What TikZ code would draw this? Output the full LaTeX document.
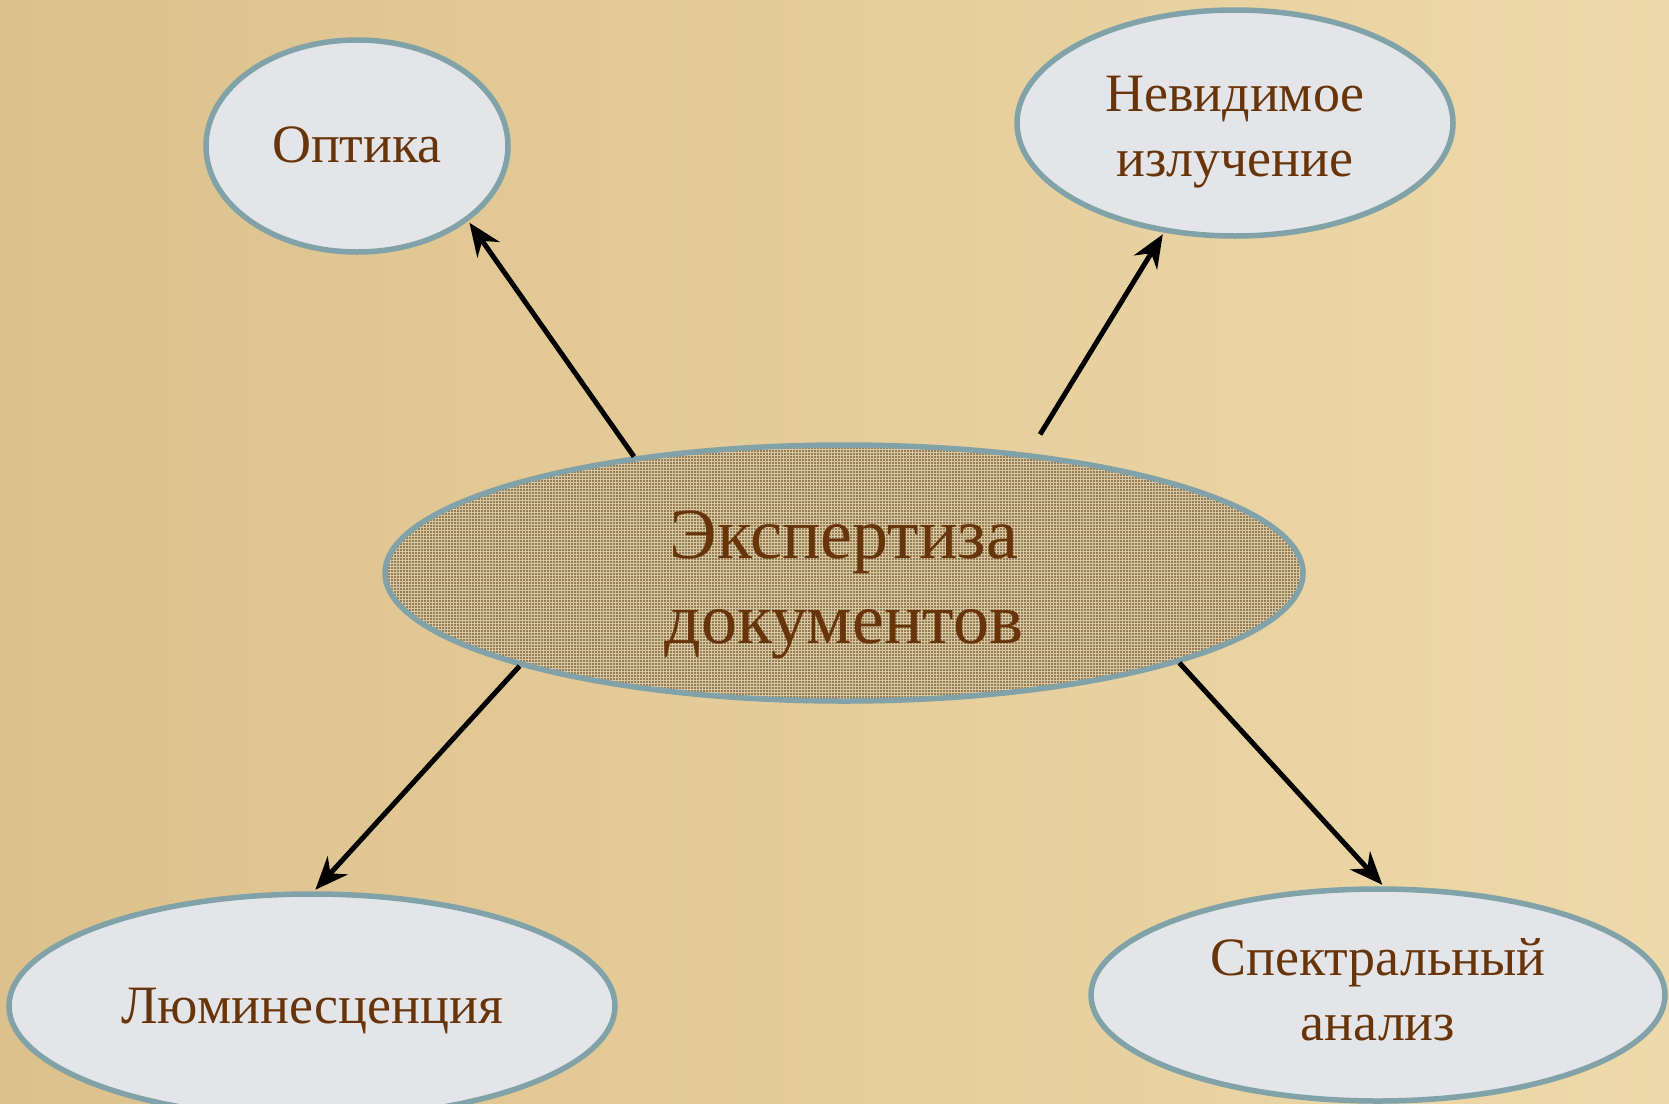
\documentclass[tikz,border=0pt]{standalone}
\usepackage{fontspec}
\setmainfont{Liberation Serif}
\usepackage{tikz}
\usetikzlibrary{shapes.geometric,arrows.meta,patterns}
\definecolor{SandDark}{RGB}{220,193,140}
\definecolor{SandLight}{RGB}{238,217,170}
\definecolor{Marble}{RGB}{228,229,233}
\definecolor{Burlap}{RGB}{150,124,86}
\definecolor{BurlapLight}{RGB}{216,200,162}
\definecolor{RimTeal}{RGB}{128,162,168}
\definecolor{InkBrown}{RGB}{104,52,10}
\newcommand{\lowtext}[2]{\raisebox{0pt}[\height][\dimexpr\depth-#1\relax]{\begin{tabular}{@{}c@{}}#2\end{tabular}}}
\tikzset{
  topic/.style={ellipse, draw=RimTeal, line width=5.5pt, fill=Marble, inner sep=0pt,
    align=center, text=InkBrown, font=\fontsize{54}{65}\selectfont},
  core/.style={topic, preaction={fill=Burlap}, pattern=grid, pattern color=BurlapLight,
    font=\fontsize{72}{85}\selectfont},
  arr/.style={-{Stealth[length=33pt, width=27pt]}, line width=5pt, black, shorten >=2pt},
}

\begin{document}
\begin{tikzpicture}[x=1pt, y=-1pt]
  \shade[left color=SandDark, right color=SandLight] (0,0) rectangle (1669,1103);
  \path[use as bounding box] (0,0) rectangle (1669,1103);
  \clip (0,0) rectangle (1669,1103);
  \node[core, minimum width=918pt, minimum height=256pt] (expert) at (844,573) {\lowtext{22pt}{Экспертиза\\документов}};
  \node[topic, minimum width=302pt, minimum height=212pt] (optic) at (357,146) {\lowtext{6pt}{Оптика}};
  \node[topic, minimum width=436pt, minimum height=226pt] (invis) at (1235,123) {\lowtext{16pt}{Невидимое\\излучение}};
  \node[topic, minimum width=606pt, minimum height=224pt] (lumin) at (312,1006) {\lowtext{8pt}{Люминесценция}};
  \node[topic, minimum width=574pt, minimum height=212pt] (spectr) at (1378,995) {\lowtext{0pt}{Спектральный\\анализ}};
  \draw[arr] (expert.151) -- (optic.-34);
  \draw[arr, shorten <=22pt] (expert.33) -- (invis.-123);
  \draw[arr] (expert.196) -- (lumin.89);
  \draw[arr] (expert.-15) -- (spectr.87);
\end{tikzpicture}
\end{document}
